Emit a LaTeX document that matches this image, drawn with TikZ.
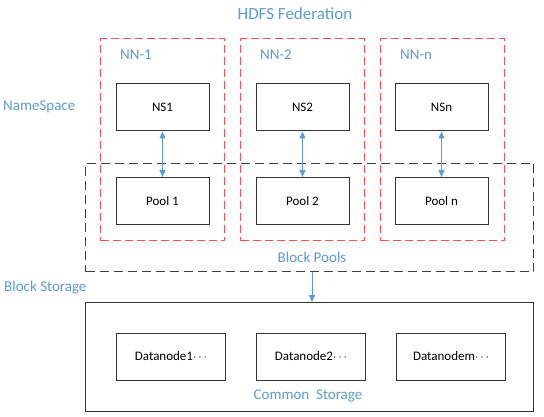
\documentclass[tikz,border=0pt]{standalone}
\usepackage{fontspec}
\setmainfont{Carlito}
\usetikzlibrary{arrows.meta}
\definecolor{lblue}{HTML}{5B9BD5}
\definecolor{lred}{HTML}{FF5050}
\tikzset{
  lbl/.style={text=lblue, font=\fontsize{15}{18}\selectfont, inner sep=0pt},
  nnbox/.style={draw=lred, line width=1.1pt, dash pattern=on 8pt off 4pt},
  poolbox/.style={draw=black!75, line width=1pt, dash pattern=on 9pt off 5pt},
  solidbox/.style={draw=black!80, line width=1pt},
  inbox/.style={draw=black!80, line width=1pt, fill=white, minimum width=93pt, minimum height=47pt, inner sep=0pt, font=\fontsize{13}{15}\selectfont},
  dnbox/.style={inbox, minimum width=109pt},
  link/.style={draw=lblue, line width=1pt, {Triangle[width=6pt,length=7pt]}-{Triangle[width=6pt,length=7pt]}},
  flow/.style={draw=lblue, line width=1pt, -{Triangle[width=6pt,length=7pt]}}
}
\begin{document}
\begin{tikzpicture}[x=1pt,y=-1pt]
\useasboundingbox (0,0) rectangle (544,417);
% block pools
\node[poolbox, minimum width=448pt, minimum height=108pt, inner sep=0pt, anchor=north west] (pools) at (85,163) {};
% NN boxes
\foreach \x/\n in {100/1,240/2,380/n}{
  \node[nnbox, minimum width=124pt, minimum height=202pt, inner sep=0pt, anchor=north west] (nn\n) at (\x,38) {};
}
\node[lbl, anchor=west] (nn1l) at (120,55) {NN-1};
\node[lbl, anchor=west] (nn2l) at (260,55) {NN-2};
\node[lbl, anchor=west] (nnnl) at (400,55) {NN-n};
% NS and pool boxes
\node[inbox] (ns1) at (162.5,107.5) {NS1};
\node[inbox] (ns2) at (302.5,107.5) {NS2};
\node[inbox] (nsn) at (441.5,107.5) {NSn};
\node[inbox] (p1) at (162.5,201) {Pool 1};
\node[inbox] (p2) at (302.5,201) {Pool 2};
\node[inbox] (pn) at (441.5,201) {Pool n};
\draw[link] (ns1) -- (p1);
\draw[link] (ns2) -- (p2);
\draw[link] (nsn) -- (pn);
% labels
\node[lbl, font=\fontsize{17}{20}\selectfont] (title) at (295,14) {HDFS Federation};
\node[lbl, anchor=west] (nsl) at (3,107) {NameSpace};
\node[lbl] (bpl) at (312,257) {Block Pools};
\node[lbl, anchor=west] (bsl) at (4,288) {Block Storage};
% common storage
\node[solidbox, minimum width=448pt, minimum height=109pt, inner sep=0pt, anchor=north west] (common) at (85,302) {};
\draw[flow] (pools.south -| bpl) -- (common.north -| bpl);
\node[dnbox] (d1) at (171,356.5) {Datanode1$\cdots$};
\node[dnbox] (d2) at (311,356.5) {Datanode2$\cdots$};
\node[dnbox] (dm) at (451,356.5) {Datanodem$\cdots$};
\node[lbl] (csl) at (308,396) {Common\ \ Storage};
\end{tikzpicture}
\end{document}
